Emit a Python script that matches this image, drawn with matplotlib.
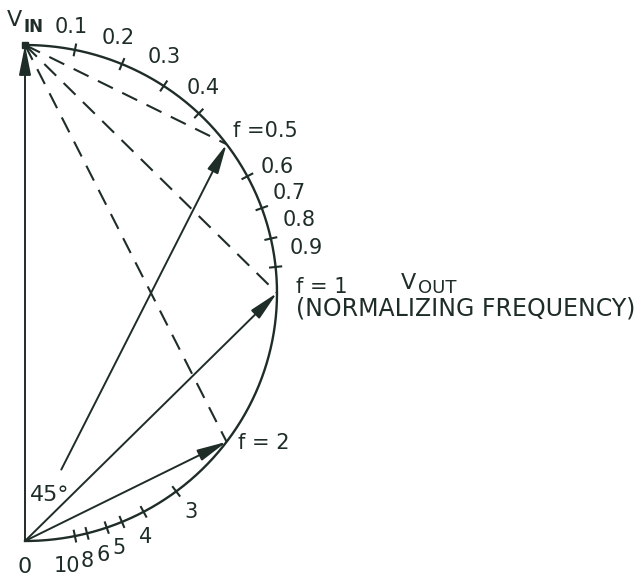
import numpy as np
import matplotlib
matplotlib.use('Agg')
import matplotlib.pyplot as plt

# ---------------- data ----------------
vin = 1.0                                   # input phasor magnitude
tick_freqs = [0.1, 0.2, 0.3, 0.4, 0.5, 0.6, 0.7, 0.8, 0.9, 1, 2, 3, 4, 5, 6, 8, 10]
tick_labels = ['0.1', '0.2', '0.3', '0.4', 'f =0.5', '0.6', '0.7', '0.8', '0.9',
               'f = 1', 'f = 2', '3', '4', '5', '6', '8', '10']
phasor_freqs = [0.5, 1, 2]                  # Vout phasors drawn as arrows
angle_label = '45°'

# ---------------- layout ----------------
W, H = 643, 586
OX, OY = 25, 541          # pixel position of origin
SX, SY = 504, 496         # pixels per unit (x, y)
label_px = {'0.1': (71, 27), '0.2': (118, 38), '0.3': (164, 57), '0.4': (203, 88),
            'f =0.5': (265, 131), '0.6': (277, 167), '0.7': (289, 193),
            '0.8': (299, 220), '0.9': (306, 248), 'f = 1': (322, 287),
            'f = 2': (264, 443), '3': (191, 512), '4': (146, 537), '5': (119, 548),
            '6': (103, 555), '8': (87, 561), '10': (67, 566)}
col = '#1f2d27'
FS = 15


def px(x, y):
    return ((x - OX) / SX, (OY - y) / SY)


def vout(f):
    # Vout = Vin / (1 + j f), drawn with Vin pointing up
    return vin * f / (1 + f ** 2), vin / (1 + f ** 2)


fig = plt.figure(figsize=(W / 100, H / 100), dpi=100)
ax = fig.add_axes([0, 0, 1, 1])
ax.set_xlim(-OX / SX, (W - OX) / SX)
ax.set_ylim((OY - H) / SY, OY / SY)
ax.axis('off')

# semicircle locus
th = np.linspace(0, np.pi, 400)
ax.plot(0.5 * vin * np.sin(th), 0.5 * vin + 0.5 * vin * np.cos(th), color=col, lw=1.7)

# tick marks across the arc
for f in tick_freqs:
    if f in phasor_freqs:
        continue
    x, y = vout(f)
    dx, dy = x, y - 0.5 * vin
    n = np.hypot(dx, dy)
    dx, dy = dx / n, dy / n
    L = 0.011
    ax.plot([x - L * dx, x + L * dx], [y - L * dy, y + L * dy], color=col, lw=1.5)

# tick labels
for f, lab in zip(tick_freqs, tick_labels):
    lx, ly = px(*label_px[lab])
    ax.text(lx, ly, lab, fontsize=FS, color=col, ha='center', va='center')

arrow_kw = dict(arrowstyle='-|>,head_length=1.0,head_width=0.2', color=col, lw=1.4,
                mutation_scale=18, shrinkA=0, shrinkB=0)

# Vin phasor
ax.annotate('', xy=(0, vin), xytext=(0, 0), arrowprops=arrow_kw)

# Vout phasors and dashed Vin - Vout differences
for f in phasor_freqs:
    x, y = vout(f)
    t0 = 0.18 if f == 0.5 else 0.0
    ax.annotate('', xy=(x, y), xytext=(t0 * x, t0 * y), arrowprops=arrow_kw)
    ax.plot([0, x], [vin, y], color=col, lw=1.5, linestyle=(0, (8, 5)))

ax.plot([0], [vin], 's', color=col, ms=5)

# other text
ax.text(*px(14, 20), 'V', fontsize=FS + 1, color=col, ha='center', va='center')
ax.text(*px(34, 27), 'IN', fontsize=12, color=col, ha='center', va='center', fontweight='bold')
ax.text(*px(408, 283), 'V', fontsize=FS + 1, color=col, ha='center', va='center')
ax.text(*px(437, 288), 'OUT', fontsize=13, color=col, ha='center', va='center')
ax.text(*px(466, 308), '(NORMALIZING FREQUENCY)', fontsize=17, color=col,
        ha='center', va='center')
ax.text(*px(50, 495), angle_label, fontsize=FS + 1, color=col, ha='center', va='center')
ax.text(*px(25, 567), '0', fontsize=FS + 1, color=col, ha='center', va='center')

fig.savefig('out.png', dpi=100, facecolor='white')
